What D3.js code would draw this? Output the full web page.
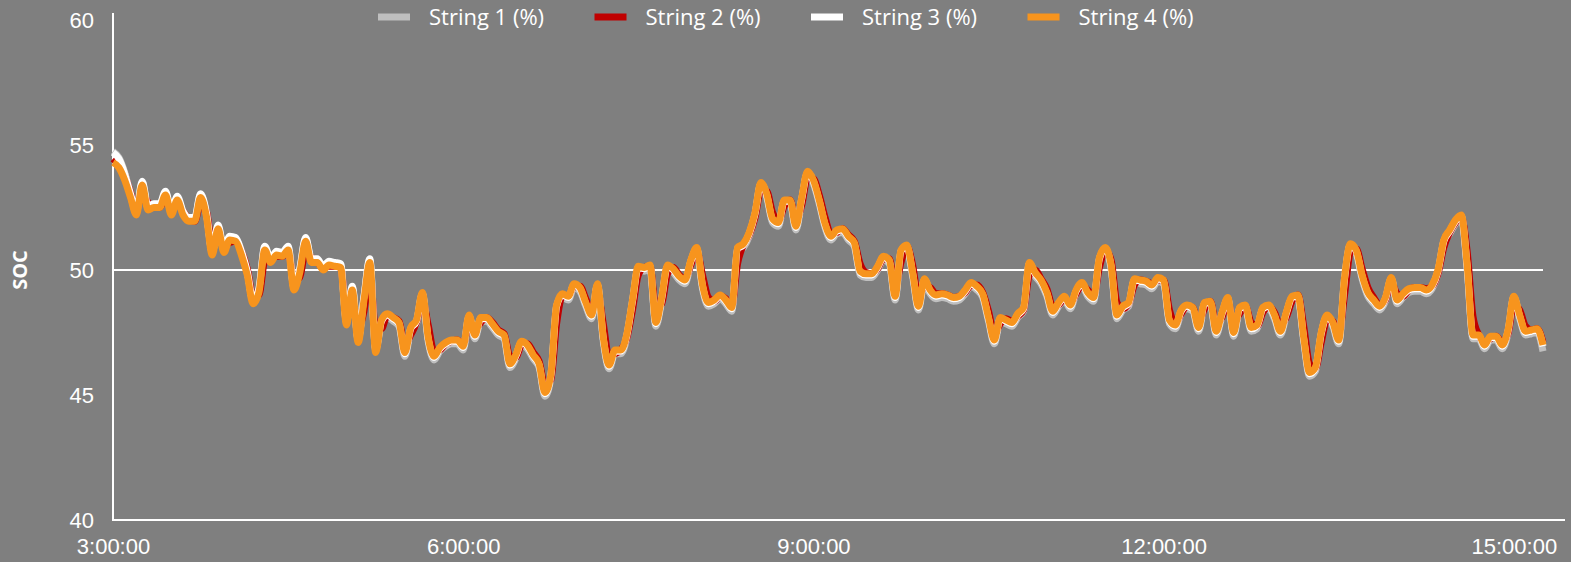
<!DOCTYPE html>
<html lang="en">
<head>
  <meta charset="UTF-8">
  <title>SOC</title>
  <script src="https://cdn.jsdelivr.net/npm/d3@7/dist/d3.min.js"></script>
  <style>
    html, body {
      margin: 0;
      padding: 0;
      background-color: #7f7f7f;
      overflow: hidden;
    }
    svg {
      display: block;
      font-family: 'Open Sans', 'Noto Sans', sans-serif;
    }
    .axis text {
      fill: #fff;
      font-size: 22px;
    }
    .legend text {
      fill: #fff;
      font-size: 22px;
    }
  </style>
</head>
<body>
  <svg width="1571" height="562"></svg>

  <script>
    // SOC per string, one reading every 3 minutes from 3:00:00
    const startMinute = 180
    const stepMinute = 3

    const string1 = [
      54.75,54.5,53.9,53.0,52.3,53.5,52.5,52.6,52.6,53.1,
      52.3,52.9,52.3,52.05,52.05,53.0,52.25,50.7,51.75,50.8,
      51.3,51.25,50.7,49.9,48.75,49.2,50.9,50.4,50.7,50.65,
      50.9,49.3,50.0,51.25,50.4,50.4,50.1,50.3,50.25,50.2,
      47.9,49.3,47.2,48.9,50.4,46.8,47.85,48.1,47.95,47.75,
      46.55,47.55,47.85,48.95,47.15,46.4,46.75,46.95,47.05,47.05,
      46.8,48.05,47.25,47.95,47.95,47.7,47.4,47.25,46.1,46.45,
      47.0,46.85,46.45,46.1,44.95,45.65,48.45,48.9,48.8,49.3,
      49.15,48.55,48.05,49.3,47.15,46.05,46.65,46.65,47.25,48.65,
      50.0,49.95,50.05,47.75,48.75,50.05,49.9,49.6,49.45,50.25,
      50.75,49.25,48.55,48.65,48.85,48.65,48.35,50.75,50.9,51.35,
      52.15,53.35,52.9,51.9,51.75,52.65,52.65,51.6,52.75,53.8,
      53.45,52.65,51.7,51.2,51.45,51.5,51.2,50.95,49.8,49.7,
      49.7,50.0,50.4,50.25,48.8,50.65,50.85,49.75,48.4,49.5,
      49.05,48.85,48.9,48.85,48.75,48.8,49.05,49.35,49.2,48.9,
      47.95,47.05,47.95,47.85,47.75,48.1,48.35,50.15,49.75,49.45,
      48.95,48.2,48.55,48.8,48.45,49.05,49.35,48.95,48.75,50.35,
      50.75,50.05,48.05,48.4,48.55,49.5,49.45,49.4,49.25,49.55,
      49.45,47.85,47.65,48.25,48.45,48.35,47.55,48.55,48.6,47.4,
      48.15,48.75,47.35,48.35,48.45,47.55,47.65,48.35,48.45,48.05,
      47.4,48.15,48.8,48.85,47.15,45.75,45.95,47.35,48.05,47.75,
      47.05,49.55,50.9,50.65,49.65,48.95,48.65,48.4,48.75,49.55,
      48.65,48.9,49.1,49.15,49.15,49.05,49.25,49.85,51.05,51.45,
      51.85,52.05,50.05,47.25,47.25,46.85,47.2,47.2,46.85,47.45,
      48.8,48.05,47.4,47.45,47.5,46.75
    ]

    const string2 = [
      54.45,54.2,53.8,53.1,52.4,53.1,52.7,52.5,52.5,52.85,
      52.45,52.65,52.35,52.05,51.95,52.65,52.35,51.0,51.4,50.95,
      51.1,51.15,50.75,50.05,48.95,49.0,50.35,50.45,50.55,50.55,
      50.75,49.6,49.7,50.8,50.5,50.3,50.1,50.15,50.15,50.1,
      48.4,48.85,47.7,48.35,49.9,47.65,47.65,48.2,48.1,47.95,
      47.0,47.4,47.9,48.8,47.8,46.75,46.8,47.05,47.15,47.2,
      47.0,47.85,47.6,47.9,48.1,47.9,47.6,47.45,46.55,46.5,
      47.0,47.05,46.7,46.35,45.4,45.6,47.85,48.95,48.95,49.35,
      49.35,48.85,48.35,49.1,47.85,46.5,46.65,46.8,47.25,48.4,
      49.8,50.1,50.15,48.5,48.65,49.85,50.1,49.8,49.65,50.2,
      50.75,49.8,48.9,48.75,48.95,48.85,48.55,50.25,51.0,51.4,
      52.1,53.2,53.15,52.3,51.95,52.55,52.8,52.0,52.6,53.7,
      53.65,53.0,52.1,51.45,51.5,51.65,51.4,51.15,50.25,49.9,
      49.85,50.05,50.45,50.45,49.3,50.3,50.95,50.2,48.9,49.35,
      49.3,49.05,49.05,49.0,48.9,48.95,49.1,49.4,49.4,49.1,
      48.35,47.45,47.85,48.05,47.95,48.15,48.4,49.8,50.0,49.65,
      49.25,48.55,48.6,48.85,48.65,49.05,49.4,49.2,48.95,50.1,
      50.8,50.4,48.7,48.45,48.65,49.4,49.6,49.55,49.45,49.6,
      49.6,48.4,47.85,48.25,48.55,48.5,47.9,48.45,48.75,47.85,
      48.1,48.75,47.85,48.25,48.55,47.9,47.75,48.3,48.55,48.3,
      47.75,48.1,48.75,49.0,47.75,46.25,46.05,47.1,48.0,47.95,
      47.4,49.0,50.7,50.85,50.05,49.3,48.9,48.6,48.8,49.5,
      49.05,48.95,49.2,49.3,49.3,49.25,49.35,49.85,50.9,51.5,
      51.9,52.1,50.75,48.15,47.4,47.1,47.25,47.35,47.1,47.45,
      48.6,48.4,47.75,47.6,47.65,47.1
    ]

    const string3 = [
      54.7,54.45,53.85,53.05,52.35,53.55,52.55,52.65,52.65,53.15,
      52.35,52.95,52.35,52.1,52.1,53.05,52.3,50.75,51.8,50.85,
      51.35,51.3,50.75,49.95,48.8,49.25,50.95,50.45,50.75,50.7,
      50.95,49.35,50.05,51.3,50.45,50.45,50.15,50.35,50.3,50.25,
      47.95,49.35,47.25,48.95,50.45,46.85,47.95,48.2,48.05,47.85,
      46.65,47.65,47.95,49.05,47.25,46.5,46.85,47.05,47.15,47.15,
      46.9,48.15,47.35,48.05,48.05,47.8,47.5,47.35,46.2,46.55,
      47.1,46.95,46.55,46.2,45.05,45.75,48.55,49.0,48.9,49.4,
      49.25,48.65,48.15,49.4,47.25,46.15,46.75,46.75,47.35,48.75,
      50.1,50.05,50.15,47.85,48.85,50.15,50.0,49.7,49.55,50.35,
      50.85,49.35,48.65,48.75,48.95,48.75,48.45,50.85,51.0,51.45,
      52.25,53.45,53.0,52.0,51.85,52.75,52.75,51.7,52.85,53.9,
      53.55,52.75,51.8,51.3,51.55,51.6,51.3,51.05,49.9,49.8,
      49.8,50.1,50.5,50.35,48.9,50.75,50.95,49.85,48.5,49.6,
      49.15,48.95,49.0,48.95,48.85,48.9,49.15,49.45,49.3,49.0,
      48.05,47.15,48.05,47.95,47.85,48.2,48.45,50.25,49.85,49.55,
      49.05,48.3,48.65,48.9,48.55,49.15,49.45,49.05,48.85,50.45,
      50.85,50.15,48.15,48.5,48.65,49.6,49.55,49.5,49.35,49.65,
      49.55,47.95,47.75,48.35,48.55,48.45,47.65,48.65,48.7,47.5,
      48.25,48.85,47.45,48.45,48.55,47.65,47.75,48.45,48.55,48.15,
      47.5,48.25,48.9,48.95,47.25,45.85,46.05,47.45,48.15,47.85,
      47.15,49.65,51.0,50.75,49.75,49.05,48.75,48.5,48.85,49.65,
      48.75,49.0,49.2,49.25,49.25,49.15,49.35,49.95,51.15,51.55,
      51.95,52.15,50.15,47.35,47.35,46.95,47.3,47.3,46.95,47.55,
      48.9,48.15,47.5,47.55,47.6,46.95
    ]

    const string4 = [
      54.3,54.1,53.6,52.9,52.2,53.4,52.4,52.5,52.5,53.0,
      52.2,52.8,52.2,51.95,51.95,52.9,52.15,50.6,51.65,50.7,
      51.2,51.15,50.6,49.8,48.65,49.1,50.8,50.3,50.6,50.55,
      50.8,49.2,49.9,51.15,50.3,50.3,50.0,50.2,50.15,50.1,
      47.8,49.2,47.1,48.8,50.3,46.7,48.0,48.25,48.1,47.9,
      46.7,47.7,48.0,49.1,47.3,46.55,46.9,47.1,47.2,47.2,
      46.95,48.2,47.4,48.1,48.1,47.85,47.55,47.4,46.25,46.6,
      47.15,47.0,46.6,46.25,45.1,45.8,48.6,49.05,48.95,49.45,
      49.3,48.7,48.2,49.45,47.3,46.2,46.8,46.8,47.4,48.8,
      50.15,50.1,50.2,47.9,48.9,50.2,50.05,49.75,49.6,50.4,
      50.9,49.4,48.7,48.8,49.0,48.8,48.5,50.9,51.05,51.5,
      52.3,53.5,53.05,52.05,51.9,52.8,52.8,51.75,52.9,53.95,
      53.6,52.8,51.85,51.35,51.6,51.65,51.35,51.1,49.95,49.85,
      49.85,50.15,50.55,50.4,48.95,50.8,51.0,49.9,48.55,49.65,
      49.2,49.0,49.05,49.0,48.9,48.95,49.2,49.5,49.35,49.05,
      48.1,47.2,48.1,48.0,47.9,48.25,48.5,50.3,49.9,49.6,
      49.1,48.35,48.7,48.95,48.6,49.2,49.5,49.1,48.9,50.5,
      50.9,50.2,48.2,48.55,48.7,49.65,49.6,49.55,49.4,49.7,
      49.6,48.0,47.8,48.4,48.6,48.5,47.7,48.7,48.75,47.55,
      48.3,48.9,47.5,48.5,48.6,47.7,47.8,48.5,48.6,48.2,
      47.55,48.3,48.95,49.0,47.3,45.9,46.1,47.5,48.2,47.9,
      47.2,49.7,51.05,50.8,49.8,49.1,48.8,48.55,48.9,49.7,
      48.8,49.05,49.25,49.3,49.3,49.2,49.4,50.0,51.2,51.6,
      52.0,52.2,50.2,47.4,47.4,47.0,47.35,47.35,47.0,47.6,
      48.95,48.2,47.55,47.6,47.65,47.0
    ]

    const seriesNames = ['String 1 (%)', 'String 2 (%)', 'String 3 (%)', 'String 4 (%)']
    const timeTicks = [180, 360, 540, 720, 900]
    const timeTickLabels = ['3:00:00', '6:00:00', '9:00:00', '12:00:00', '15:00:00']
    const socTicks = [40, 45, 50, 55, 60]

    const seriesColors = ['#bfbfbf', '#c00000', '#ffffff', '#f7941d']

    onload = () => {
      const left = 113
      const right = 1543
      const top = 20
      const bottom = 520
      const series = [string1, string2, string3, string4]
      const times = string4.map((v, i) => startMinute + i * stepMinute)

      const svg = d3.select('svg')

      const xScale = d3.scaleLinear()
        .domain([times[0], times[times.length - 1]])
        .range([left, right])

      const yScale = d3.scaleLinear()
        .domain([40, 60])
        .range([bottom, top])

      // y axis labels
      const yAxis = svg.append('g')
        .attr('class', 'axis')
        .attr('transform', `translate(${left}, 0)`)
        .call(d3.axisLeft(yScale).tickValues(socTicks).tickSize(0).tickPadding(19))
      yAxis.select('.domain').remove()

      // x axis labels
      const xAxis = svg.append('g')
        .attr('class', 'axis')
        .attr('transform', `translate(0, ${bottom})`)
        .call(d3.axisBottom(xScale)
          .tickValues(timeTicks)
          .tickFormat((d, i) => timeTickLabels[i])
          .tickSize(0)
          .tickPadding(18))
      xAxis.select('.domain').remove()

      // gridline at 50
      svg.append('line')
        .attr('x1', left).attr('x2', right)
        .attr('y1', yScale(50)).attr('y2', yScale(50))
        .attr('stroke', '#fff')
        .attr('stroke-width', 2)

      // axis lines
      svg.append('line')
        .attr('x1', left).attr('x2', left)
        .attr('y1', 13).attr('y2', bottom + 1)
        .attr('stroke', '#fff')
        .attr('stroke-width', 2)
      svg.append('line')
        .attr('x1', left).attr('x2', 1565)
        .attr('y1', bottom).attr('y2', bottom)
        .attr('stroke', '#fff')
        .attr('stroke-width', 2)

      const line = d3.line()
        .x((d, i) => xScale(times[i]))
        .y(d => yScale(d))
        .curve(d3.curveMonotoneX)

      svg.append('g')
        .selectAll('path')
        .data(series)
        .enter()
        .append('path')
        .attr('d', line)
        .attr('fill', 'none')
        .attr('stroke', (d, i) => seriesColors[i])
        .attr('stroke-width', 7)
        .attr('stroke-linejoin', 'round')

      // legend
      const legend = svg.append('g')
        .attr('class', 'legend')
        .selectAll('g')
        .data(seriesNames)
        .enter()
        .append('g')
        .attr('transform', (d, i) => `translate(${378 + i * 216.5}, 17)`)

      legend.append('line')
        .attr('x1', 0).attr('x2', 32)
        .attr('stroke', (d, i) => seriesColors[i])
        .attr('stroke-width', 7)

      legend.append('text')
        .attr('x', 51)
        .attr('dy', '0.35em')
        .text(d => d)

      svg.append('text')
        .attr('transform', 'translate(27, 270) rotate(-90)')
        .attr('text-anchor', 'middle')
        .attr('fill', '#fff')
        .attr('font-size', 20)
        .attr('font-weight', 'bold')
        .text('SOC')
    }
  </script>
</body>
</html>
